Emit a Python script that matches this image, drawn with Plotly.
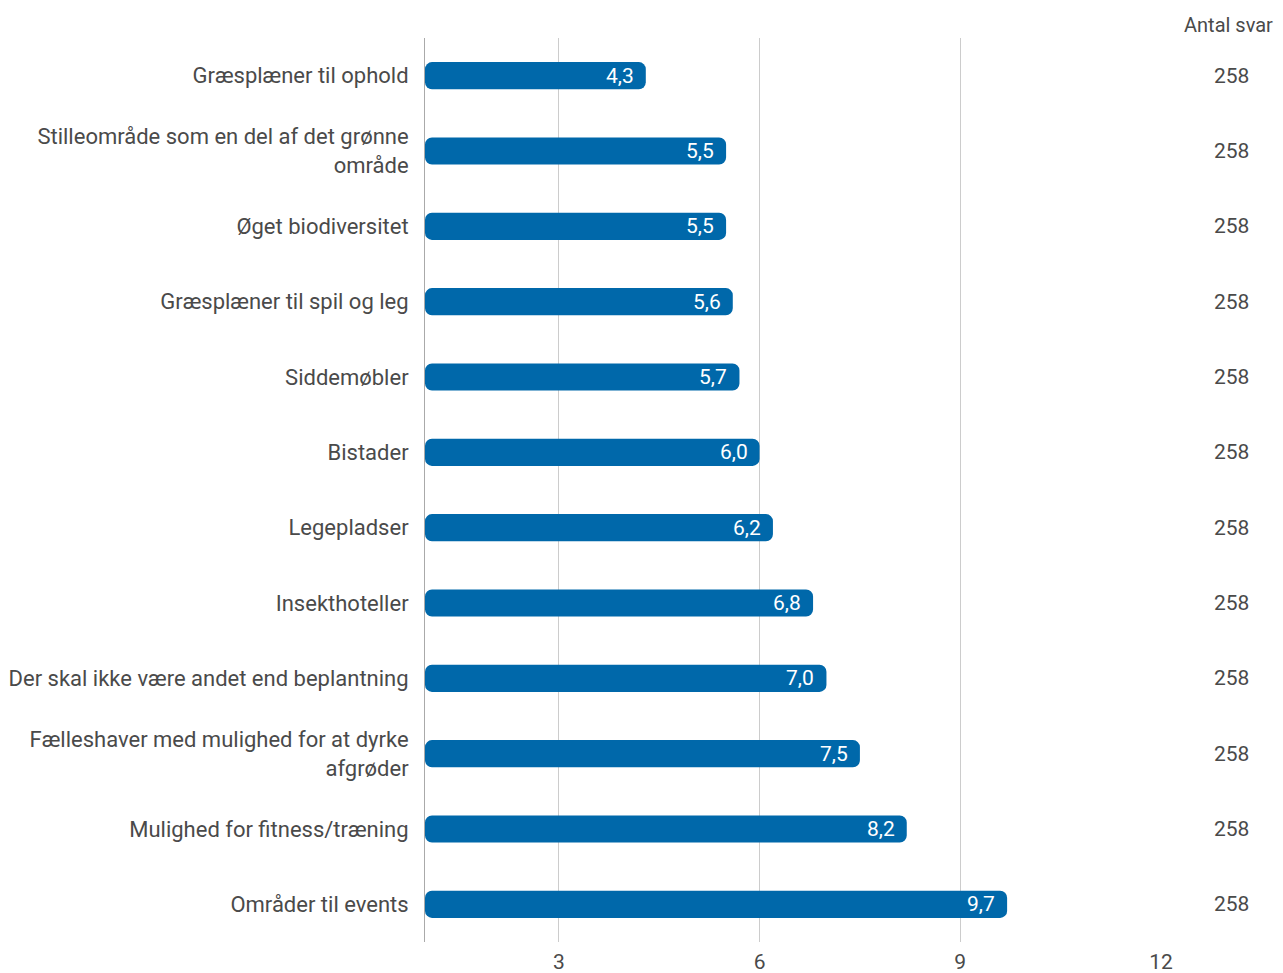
import plotly.graph_objects as go

categories = [
    "Græsplæner til ophold",
    "Stilleområde som en del af det grønne<br>område",
    "Øget biodiversitet",
    "Græsplæner til spil og leg",
    "Siddemøbler",
    "Bistader",
    "Legepladser",
    "Insekthoteller",
    "Der skal ikke være andet end beplantning",
    "Fælleshaver med mulighed for at dyrke<br>afgrøder",
    "Mulighed for fitness/træning",
    "Områder til events",
]
values = [4.3, 5.5, 5.5, 5.6, 5.7, 6.0, 6.2, 6.8, 7.0, 7.5, 8.2, 9.7]
antal_svar = [258] * 12
x_ticks = [3, 6, 9, 12]
column_title = "Antal svar"
axis_start = 1

FONT = "Roboto"
BAR = "#0068aa"
TXT = "#4a4a4a"

fig = go.Figure()
fig.add_trace(go.Bar(
    y=categories,
    x=[v - axis_start for v in values],
    base=axis_start,
    orientation="h",
    marker=dict(color=BAR, line=dict(width=0)),
    width=0.36,
    hoverinfo="skip",
))

for c, v in zip(categories, values):
    fig.add_annotation(
        x=v, xref="x", xshift=-10, y=c, yref="y",
        text=f"{v:.1f}".replace(".", ","), showarrow=False, xanchor="right",
        font=dict(family=FONT, size=21, color="white"),
    )

for c, n in zip(categories, antal_svar):
    fig.add_annotation(
        x=1.0, xref="paper", xshift=70, y=c, yref="y",
        text=str(n), showarrow=False, xanchor="center",
        font=dict(family=FONT, size=21, color=TXT),
    )
fig.add_annotation(
    x=1.0, xref="paper", xshift=114, y=1.0, yref="paper", yshift=13,
    text=column_title, showarrow=False, xanchor="right", yanchor="middle",
    font=dict(family=FONT, size=20, color=TXT),
)

fig.update_layout(
    width=1275, height=973,
    margin=dict(l=417, r=122, t=30, b=39),
    paper_bgcolor="white", plot_bgcolor="white",
    showlegend=False,
    barcornerradius=7,
    font=dict(family=FONT, size=21, color=TXT),
    xaxis=dict(
        range=[axis_start, 12], tickvals=x_ticks, ticktext=[str(t) for t in x_ticks],
        showgrid=True, gridcolor="#cccccc", gridwidth=1, automargin=False,
        zeroline=False, showline=False, ticks="", ticklabelstandoff=5,
        tickfont=dict(family=FONT, size=21, color=TXT),
    ),
    yaxis=dict(
        autorange="reversed", showgrid=False, zeroline=False, automargin=False,
        showline=True, linecolor="#aaaaaa", linewidth=1,
        ticks="", ticklabelstandoff=11,
        tickfont=dict(family=FONT, size=22, color=TXT),
    ),
)

fig.write_html("out.html")
